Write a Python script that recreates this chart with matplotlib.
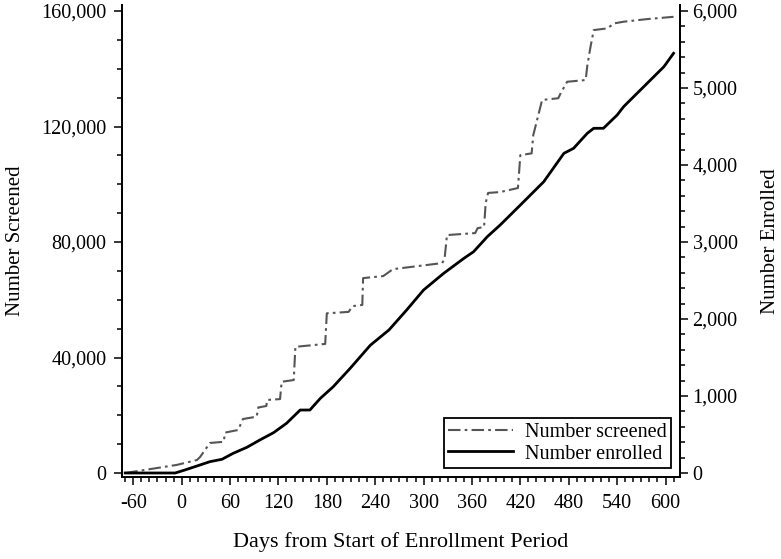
import matplotlib
matplotlib.use("Agg")
import matplotlib.pyplot as plt
from matplotlib.ticker import MultipleLocator, FuncFormatter

# Cumulative number screened (left axis)
screened_days = [-70, -47, -6, 19, 23, 35, 52, 54, 70, 76, 93, 95, 105, 106, 122, 124,
                 139, 141, 178, 180, 207, 212, 224, 225, 250, 262, 323, 326, 329, 364,
                 367, 375, 377, 380, 395, 417, 420, 434, 436, 447, 467, 470, 478, 501,
                 503, 507, 511, 528, 536, 548, 577, 610]
screened_vals = [0, 1000, 2800, 4500, 5600, 10400, 10800, 14000, 14900, 18700, 19500,
                 22700, 23200, 25300, 25600, 31600, 32200, 43700, 44700, 55300, 55800,
                 57800, 58200, 67500, 68200, 70600, 72700, 74100, 82400, 83100, 84800,
                 85200, 93500, 97000, 97300, 98700, 110100, 110700, 117000, 129200,
                 129800, 131500, 135500, 136100, 141000, 147600, 153400, 154000, 155700,
                 156300, 157200, 158000]

# Cumulative number enrolled (right axis)
enrolled_days = [-70, -8, 4, 19, 35, 50, 64, 81, 97, 114, 130, 147, 159, 172, 188, 209,
                 234, 257, 279, 300, 325, 350, 362, 379, 395, 420, 449, 474, 486, 503,
                 511, 523, 540, 548, 573, 598, 610]
enrolled_vals = [0, 0, 39, 91, 147, 178, 256, 334, 429, 524, 645, 818, 818, 970, 1121,
                 1360, 1660, 1857, 2117, 2377, 2594, 2788, 2874, 3069, 3221, 3480, 3783,
                 4152, 4217, 4412, 4477, 4477, 4649, 4757, 5017, 5277, 5451]

x_ticks = list(range(-60, 601, 60))

plt.rcParams["font.family"] = ["Liberation Serif", "DejaVu Serif"]
plt.rcParams["axes.unicode_minus"] = False

fig = plt.figure(figsize=(7.81, 5.59), dpi=100)
ax = fig.add_axes([0.1562, 0.1467, 0.7145, 0.8443])
ax2 = ax.twinx()

l1, = ax.plot(screened_days, screened_vals, color="#555555", lw=1.5,
              linestyle=(0, (6, 2, 1.3, 2)), label="Number screened")
l2, = ax2.plot(enrolled_days, enrolled_vals, color="black", lw=2.0,
               label="Number enrolled")

ax.set_xlim(-74, 618)
ax.set_ylim(-1385, 162078)
ax2.set_ylim(-52, 6078)

ax.xaxis.set_major_locator(plt.FixedLocator(x_ticks))
ax.xaxis.set_minor_locator(MultipleLocator(10))
ax.yaxis.set_major_locator(MultipleLocator(40000))
ax.yaxis.set_minor_locator(MultipleLocator(10000))
ax2.yaxis.set_major_locator(MultipleLocator(1000))
ax2.yaxis.set_minor_locator(MultipleLocator(200))

comma = FuncFormatter(lambda v, p: f"{int(v):,}")
ax.yaxis.set_major_formatter(comma)
ax2.yaxis.set_major_formatter(comma)

for a in (ax, ax2):
    a.spines["top"].set_visible(False)
    for s in a.spines.values():
        s.set_linewidth(1.3)
    a.tick_params(which="major", length=6, width=1.1, labelsize=14.5, direction="out")
    a.tick_params(which="minor", length=3.5, width=1.1, direction="out")
ax.tick_params(axis="y", pad=5)
ax.tick_params(axis="x", pad=6)
ax2.tick_params(axis="y", pad=3)

ax.set_xlabel("Days from Start of Enrollment Period", fontsize=16, labelpad=14)
ax.set_ylabel("Number Screened", fontsize=15, labelpad=12)
ax2.set_ylabel("Number Enrolled", fontsize=15, labelpad=17)

leg = ax2.legend(handles=[l1, l2], loc="lower right", fontsize=14.5, frameon=True,
                 fancybox=False, framealpha=1, edgecolor="black", handlelength=3.2,
                 handletextpad=0.6, labelspacing=0.12, borderpad=0.22,
                 borderaxespad=0.45)
leg.get_frame().set_linewidth(1.3)

fig.savefig("out.png", dpi=100)
